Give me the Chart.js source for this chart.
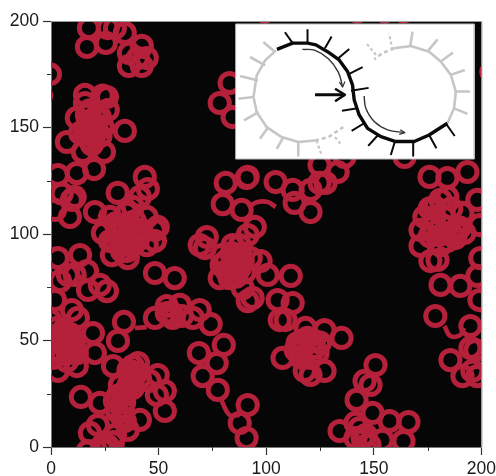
<!DOCTYPE html>
<html><head><meta charset="utf-8">
<style>html,body{margin:0;padding:0;background:#fff}canvas{display:block}</style>
<script src="https://cdn.jsdelivr.net/npm/chart.js@4"></script></head>
<body><canvas id="c" width="496" height="476"></canvas>
<script>
const axisMax = 200;
const majorTicks = [0,50,100,150,200];
const minorTicks = [25,75,125,175];
// ring centres [x, y]
const ringsTopLeft = [[17.6,196.7],[16.7,187.8],[25.5,189.7],[26.4,196.7],[34.3,194.4],[29.7,196.7],[42.2,188.3],[36.2,185],[44.5,182.6],[42.2,178.9],[36.2,178.9],[40.4,182.6],[-0.5,175],[-4.6,165],[99.3,204.5],[142.4,204.5],[155,204.5],[163.8,204.5]];
const ringsCluster150 = [[15.8,165.3],[26,164.3],[26.4,158.2],[12,154.5],[15.8,161.5],[16.7,155.9],[34.3,148.4],[7.4,143.2],[13.5,147.4],[19.5,150.2],[24,150.2],[18,144.1],[14.8,138.5],[24.6,138.5],[20,130.5],[12,128.6],[3.2,127.7],[22.7,154.9],[18,147.4],[24,165],[18,158],[21,155],[17,152],[21,150],[16,148],[20,146],[23,146],[19,142]];
const ringsCluster105 = [[9.7,116],[5,119],[1.9,111.3],[8.8,108],[11,117.4],[31,119.3],[43.6,126.8],[45,121.1],[41.3,117.4],[20.4,110.3],[27.4,108],[35.3,109.9],[38,112.7],[30.6,103.3],[24.1,100.5],[44.5,108],[49.6,103.3],[48.3,101.9],[28.3,90.1],[35.3,92],[27.4,96.7],[38,94.8],[35.7,88.7],[44.5,94.8],[48.3,96.7],[48.3,81.7],[57.5,79.3],[32,99.5],[36.7,101.9],[40.4,97.2],[33,94.8],[30,105],[33,104],[36,105],[39,106],[31,100],[35,98],[39,100],[42,102],[29,97],[33,92]];
const ringsLeft = [[3.2,88.7],[13.5,90.1],[7.9,80.8],[16.7,82.6],[4.2,77.9],[1.9,69],[11,80.8],[17.2,73.7],[26,73.2],[22.7,76.1],[9.7,64.3],[12.5,60.6],[19.5,53.5],[20.4,44.1],[2.8,55.9],[5.6,49.3],[10.2,45.1],[2.8,45.1],[7.4,40.4],[3.2,35.7],[12,38],[0.9,41.8],[7.4,52.6],[4.2,52.6],[11.1,50.2],[-0.5,59.6],[28.8,38],[33.9,58.7],[31.1,49.8],[13.9,23.5],[22.7,20.7],[18.1,6.6],[21.8,10.3],[26.4,0.5],[17.2,-1.9],[23.7,0.5],[6,55],[9,53],[3,49],[7,47],[10,48],[5,44],[8,44],[12,44],[1,52]];
const ringsBottom = [[38,38],[40.4,39.4],[36.7,33.8],[32,29.1],[29.7,21.6],[34.3,24.4],[30.6,16.9],[34.3,12.2],[41.3,12.7],[35.7,8],[29.7,5.6],[49.6,33.8],[45.9,31],[52.9,26.3],[52.9,16.9],[49.2,24.4],[41.3,32.4],[33.4,18.3],[28.8,2.3],[38,27.7],[36,29],[33,25],[40,35],[36,36],[31,24],[38,31],[34,21],[33,14]];
const ringsMiddle = [[48.3,60.6],[53.8,62.9],[56.1,62.9],[59.9,66.7],[56.6,60.6],[60.8,61.5],[65.9,60.6],[69.1,64.3],[74.2,57.7],[80.3,47.9],[68.7,44.1],[77,39.4],[70.5,33.3],[77.5,26.8],[53.8,66.2],[87.7,11.3],[91.4,19.7],[90.9,4.2]];
const ringsCentre = [[83,170.9],[78.4,161.5],[84.4,154.9],[81.2,124],[90.9,126.3],[79.8,114],[88.6,111.3],[72.4,98.6],[69.1,94.8],[71.5,93.4],[79.3,90.1],[84.4,94.8],[89.1,87.3],[78.4,79.3],[83,79.3],[89.1,74.6],[87.7,84],[84.4,87.3],[81.7,82.6],[91.4,68.5],[87.7,94.8],[91.4,99.5],[79.3,85.4],[92.8,88.7],[97.4,87.3],[100.7,80.8],[111.4,80.3],[93.7,70],[105.3,69],[112.3,67.6],[106.3,59.6],[109,59.6],[84,91],[86,89],[81,87],[85,85],[88,90],[90,82],[86,80]];
const ringsLowerCentre = [[118.3,55.9],[127.1,54.9],[135,51.2],[107.6,41.8],[114.6,48.8],[116.9,46.5],[113.7,45.5],[122.5,46.5],[123.9,44.1],[120.6,41.8],[127.1,35.7],[117.9,35.7],[120.6,33.8],[119.2,51.2],[150.8,38.5],[145.7,31],[148.5,29.1],[142,22.1],[149.4,16],[157.3,12.2],[166.1,11.7],[134.1,7.5],[141.5,11.3],[143.4,8.9],[144.8,4.2],[141.5,4.2],[154,3.3],[163.8,2.8],[148,0.9],[146.2,5.6],[117,50],[122,50],[125,49],[116,42]];
const ringsRight = [[178.6,61.5],[194.9,56.8],[181,76.1],[190.2,75.6],[198.1,80.3],[199.1,69],[185.6,40.8],[191.2,33.3],[195.8,35.7],[198.1,33.3],[197.2,45.5],[194.9,46.5],[199.5,88.7],[171.7,94.4],[176.3,87.3],[179.6,87.8],[181,94.8],[184.2,96.7],[187.9,98.1],[164.3,136.2],[175.9,126.8],[184.2,126.3],[193.5,129.1],[181,116],[184.2,117.4],[198.1,116],[182.8,108],[191.2,109.9],[173.5,108],[171.7,101.9],[178.2,112.7],[177.2,103.3],[185.6,100.5],[192.1,100.5],[199.1,104.2],[204.6,176],[206,166.7],[178,106],[182,100],[186,112],[176,99],[188,102],[176,112],[190,103]];
const ringsUnderInset = [[124.8,132.4],[133.2,129.1],[124.8,124],[127.6,124],[120.6,120.7],[112.3,120.7],[104.4,124.4],[113.2,114.6],[120.6,110.3],[91.4,126.8],[94.7,103.3],[136.4,136.2]];
// short curved links between rings
const linkRight = [[182.8,56.8],[185.6,52.1],[190.2,52.6],[192,55.9]];
const linkTop = [[91.4,112.7],[96,115],[100.7,115],[104.4,112.7]];
const linkMiddle = [[39,55.9],[44.5,56.3]];
const linkLower = [[79.3,21.6],[83,15],[87.7,15]];
// inset panel
const insetLeft = 85.8, insetRight = 196.7, insetTop = 198.6, insetBottom = 135.2;
const blackPath = [[105,186.7],[112.3,189.6],[119.2,189.6],[123.1,188.8],[128.5,185.6],[133.9,181.7],[137.8,176.3],[140.1,170],[140.9,162.9],[143.2,155.9],[147.1,149.6],[153.3,145.7],[160.2,143.4],[168.8,143.4],[175.7,146.5],[184.2,152]];
const blackTicks = [[112.3,189.6,108.7,194.7],[119.2,189.6,119.2,196.1],[127.3,187.2,130.4,192.7],[133.5,182.5,138.6,186.9],[138.6,175.2,144.8,178.3],[139.4,167.3,147.6,168.6],[142.5,159,135.2,157.9],[145.5,152,139.7,148.4],[152,146.5,147.4,141.4],[159.8,143.4,157.9,137.1],[168.3,143.4,168.3,136.7],[175.7,146.5,179.1,140.3],[183.4,152,187.6,146]];
const greyRight = [[184.2,152],[187.3,159],[188.1,166.9],[185.8,174.7],[181.1,181],[175.7,185.6],[167.2,188.3],[159.5,187.2]];
const greyRightDash = [[159.5,187.2],[154,184.9],[150.2,182]];
const greyLeft = [[104.6,186.2],[99.5,181.5],[95.6,174.5],[94.1,164.3],[95.6,157.2],[100.2,150.2],[107.2,145.5],[114.9,143.2],[122.7,143.9]];
const greyLeftDash = [[122.7,143.9],[128.9,145.5],[135.8,150.2]];
const greyTicks = [[187.3,159,193.5,156.4],[188.1,166.9,194.7,166.9],[185.8,174.7,192.3,177],[181.1,181,186.8,185.2],[174.9,185.6,179.6,191.4],[166.9,188,168,195],[104.1,185.4,98.7,190.1],[99.5,179.2,92.5,183.1],[96.1,172.1,87.9,174.2],[94.1,164.3,87.1,163.5],[96.4,157.2,89.7,153.3],[101,150.2,97.1,144.7],[108,145.5,104.9,140],[114.9,143.2,114.9,136.9]];
const greyTicksDash = [[158.7,186.4,157.1,194.2],[151,184.1,146.8,189.2],[123.4,143.9,125.5,137.7],[132,145.5,135.1,141.6]];
const bigArrow = [[122.7,165.4],[136.6,165.4]];
const bigArrowHead = [[132,168.2],[136.6,165.4],[132,162.3]];
const thinArcUpper = [[116.8,186.7],[122.7,186.2],[128.9,182.3],[133.5,176],[135.5,169]];
const thinHeadUpper = [[134,171.3],[135.5,169],[136.6,171.6]];
const thinArcLower = [[145.5,164.8],[146.3,159],[150.2,152.8],[156.4,148.9],[164.4,147.6]];
const thinHeadLower = [[162.3,148.9],[164.4,147.6],[161.8,146.8]];

const pts = a => a.map(p => ({x:p[0], y:p[1]}));
const segs = a => a.flatMap(s => [{x:s[0],y:s[1]},{x:s[2],y:s[3]},{x:NaN,y:NaN}]);
const ringColor = '#b5203a', grey = '#c6c6c6';
const allRings = [ringsTopLeft,ringsCluster150,ringsCluster105,ringsLeft,ringsBottom,ringsMiddle,ringsCentre,ringsLowerCentre,ringsRight,ringsUnderInset].flat();
const line = (data, color, width, extra) => Object.assign({data, borderColor:color, borderWidth:width, showLine:true, pointRadius:0, tension:0, spanGaps:false, clip:0, fill:false, order:1, borderCapStyle:'butt', borderJoinStyle:'round'}, extra||{});
const curve = {tension:0.4};

const minorAndFrame = {
  id:'frame',
  beforeDraw(ch){
    const {ctx, chartArea:a} = ch;
    ctx.save(); ctx.fillStyle='#060606';
    ctx.fillRect(a.left,a.top,a.right-a.left,a.bottom-a.top); ctx.restore();
  },
  afterDraw(ch){
    const {ctx, chartArea:a, scales:{x,y}} = ch;
    ctx.save(); ctx.strokeStyle='#333'; ctx.lineWidth=1; ctx.beginPath();
    minorTicks.forEach(v=>{
      const px=Math.round(x.getPixelForValue(v))+.5, py=Math.round(y.getPixelForValue(v))+.5;
      ctx.moveTo(px,a.bottom); ctx.lineTo(px,a.bottom+4);
      ctx.moveTo(a.left,py); ctx.lineTo(a.left-4,py);
    });
    ctx.stroke();
    ctx.strokeStyle='#9a9a9a'; ctx.beginPath();
    ctx.moveTo(a.left,a.top+.5); ctx.lineTo(a.right+.5,a.top+.5); ctx.lineTo(a.right+.5,a.bottom);
    ctx.stroke(); ctx.restore();
  }
};
const axis = (fit) => ({
  type:'linear', min:0, max:axisMax, afterFit:fit,
  afterBuildTicks(s){ s.ticks = majorTicks.map(value=>({value})); },
  grid:{drawOnChartArea:false, drawTicks:true, tickLength:8, tickColor:'#333', tickWidth:1.2},
  border:{display:true, color:'#777', width:1},
  ticks:{color:'#1a1a1a', font:{family:'"Liberation Sans",Arial,sans-serif', size:17.5}, padding:4, maxRotation:0, autoSkip:false, align:'center'}
});
new Chart(document.getElementById('c'),{
  type:'scatter',
  data:{datasets:[
    {data:pts(allRings), pointStyle:'circle', pointRadius:9.6, pointBorderWidth:5, pointBorderColor:ringColor, pointBackgroundColor:'rgba(0,0,0,0)', showLine:false, clip:0, order:10},
    line(pts(linkRight),ringColor,4.6,{order:9,tension:0.4}),
    line(pts(linkTop),ringColor,4.6,{order:9,tension:0.4}),
    line(pts(linkMiddle),ringColor,4.6,{order:9}),
    line(pts(linkLower),ringColor,4.6,{order:9,tension:0.4}),
    line(pts([[insetLeft,insetTop],[insetRight,insetTop]]),'#bdbdbd',1,{fill:{value:insetBottom}, backgroundColor:'#ffffff', order:5}),
    line(pts([[insetRight,insetTop],[insetRight,insetBottom],[insetLeft,insetBottom],[insetLeft,insetTop]]),'#bdbdbd',1,{order:4}),
    line(pts(greyRight),grey,2.6,{order:3}),
    line(pts(greyRightDash),grey,2.6,{order:3,borderDash:[4,3]}),
    line(pts(greyLeft),grey,2.6,{order:3}),
    line(pts(greyLeftDash),grey,2.6,{order:3,borderDash:[4,3]}),
    line(segs(greyTicks),grey,2.6,{order:3}),
    line(segs(greyTicksDash),grey,2.2,{order:3,borderDash:[3,2.5]}),
    line(pts(blackPath),'#0a0a0a',3.4),
    line(segs(blackTicks),'#0a0a0a',2),
    line(pts(bigArrow),'#0a0a0a',3),
    line(pts(bigArrowHead),'#0a0a0a',2.4),
    line(pts(thinArcUpper),'#333',1.4,curve),
    line(pts(thinHeadUpper),'#333',1.2),
    line(pts(thinArcLower),'#333',1.4,curve),
    line(pts(thinHeadLower),'#333',1.2)
  ]},
  options:{
    responsive:false, animation:false, events:[],
    layout:{padding:{top:21,right:14,left:0,bottom:0}},
    plugins:{legend:{display:false},tooltip:{enabled:false},title:{display:false}},
    scales:{
      x:axis(s=>{s.height=29;s.paddingRight=0;s.paddingLeft=0;}),
      y:axis(s=>{s.width=51;s.paddingTop=0;s.paddingBottom=0;})
    }
  },
  plugins:[minorAndFrame]
});
</script></body></html>
